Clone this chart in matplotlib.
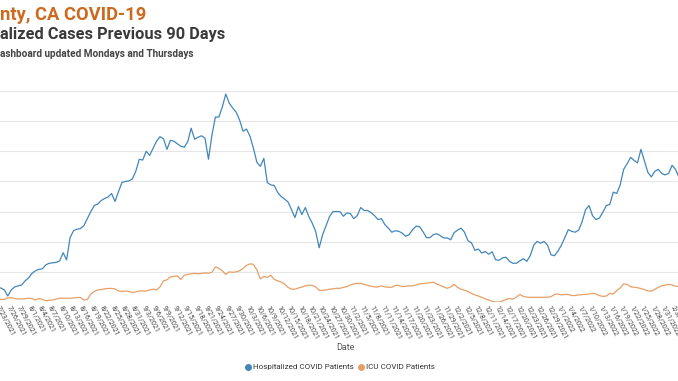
import datetime as dt
import matplotlib
matplotlib.use("Agg")
import matplotlib.pyplot as plt
from matplotlib.lines import Line2D

# daily data, 7/22/2021 .. 2/4/2022
start_date = dt.date(2021, 7, 22)

hospitalized = [
    9.3, 9.3, 8, 4, 8, 10, 10.7, 11.3, 14, 16,
    19, 20.7, 21.7, 22, 24.7, 25.7, 26, 26.3, 27.3, 32.7,
    28, 42.7, 47.3, 48.3, 48.7, 50.7, 55.3, 60, 64, 65,
    67.3, 68.7, 69.7, 72, 66.7, 73.3, 79.3, 80, 80.3, 81.7,
    86.7, 94.7, 94.2, 100, 97.3, 102, 106.7, 109.7, 108.3, 101.3,
    107.3, 106.7, 105, 103.3, 102.7, 106.3, 115.3, 108, 109.3, 110.3,
    108.7, 94.7, 110.7, 122.7, 122.7, 129.3, 138, 132, 128.7, 126,
    120.7, 113.3, 114.7, 110, 102, 92.7, 90, 95.3, 79.3, 77.7,
    77.3, 72.7, 70, 68.3, 66.3, 61.3, 56, 63.3, 58, 62.7,
    56.7, 52.3, 46.7, 36, 44.7, 50.7, 56.7, 60, 60, 60,
    56.9, 59.1, 58.7, 55.3, 57.3, 62.7, 60.7, 60.7, 59.3, 57.3,
    54.7, 55.3, 51.3, 49, 46.3, 47.3, 46.9, 45.7, 43.6, 44.7,
    48, 50.3, 50, 46.7, 42.7, 42.7, 44.7, 45.3, 44, 42.5,
    42.5, 41.3, 46, 47.7, 49, 46.3, 40.7, 39.3, 34.3, 35.1,
    32.5, 33.5, 31.7, 33.3, 28, 27.7, 29.3, 29.7, 27, 25.7,
    25.7, 27.3, 28.7, 27, 30.7, 37.7, 40.2, 39, 40.2, 37.7,
    31.3, 30.7, 33.7, 37.7, 42.7, 48, 46.9, 46.3, 47.7, 53.3,
    61.3, 64, 57.3, 54.7, 55.7, 59.7, 64, 64.7, 72.9, 72,
    77.7, 88, 91.7, 96, 94, 92.3, 101.3, 93.7, 86, 83,
    86.7, 88, 85.3, 84.3, 85.3, 90.7, 88, 82.7,
]

icu = [
    2.5, 1.7, 1.7, 2.7, 2.9, 2.3, 2, 2, 2.2, 2.5,
    2.3, 1.3, 2.3, 1.7, 0.9, 1.1, 1.3, 2, 2.5, 2.5,
    2.5, 2.5, 2.7, 3, 3, 1.3, 1.7, 5.3, 7, 8,
    8.3, 8.7, 9, 9, 8.7, 7.3, 7, 7.3, 7, 6.3,
    6.7, 7.3, 7.3, 7.3, 8, 8.5, 8, 10, 14, 14.7,
    16.7, 17, 17.3, 15, 17.7, 18.3, 18.7, 19, 18.7, 19,
    19.3, 19.1, 19.7, 23.3, 22.3, 20.7, 18.3, 20, 19.7, 20,
    20.7, 22.3, 24.3, 25.3, 25, 21.3, 15.3, 17, 16.3, 17.7,
    15, 14, 13.3, 12, 9.7, 8.5, 8.5, 9.3, 9.9, 10.7,
    11.1, 11, 10, 7.7, 7.7, 8, 8.5, 8.7, 9.1, 9.1,
    9.7, 10.2, 11.3, 12, 12.3, 12.3, 11.7, 11, 10.5, 10,
    10, 10.7, 10, 9.8, 9.8, 11, 11, 10.2, 10.5, 10.7,
    10.7, 11.3, 12, 12.2, 12.5, 12.8, 13.1, 12, 11, 10,
    9.1, 10, 11.7, 9.7, 8.5, 7.8, 7, 5.7, 4.7, 4,
    3.1, 2.1, 1.3, 0.5, 0, 0, 0.7, 1.7, 2.3, 1.9,
    3.3, 5, 3.7, 3.2, 3.1, 3.1, 3.1, 3.1, 3.1, 3.2,
    3.5, 5, 5.3, 4.7, 5, 5, 4.3, 4.3, 4.7, 4.9,
    5.1, 5.3, 5.8, 5.3, 4.3, 3.7, 4, 5.7, 5.3, 7.7,
    9.3, 12, 11.7, 10.1, 9.8, 9.5, 8.9, 8.3, 7.3, 7.2,
    8.4, 9.7, 10.7, 11.3, 11.7, 11.3, 10.5, 10.2,
]

dates = [start_date + dt.timedelta(days=i) for i in range(len(hospitalized))]
series_names = ["Hospitalized COVID Patients", "ICU COVID Patients"]
series_colors = ["#4287ba", "#e6a067"]

W, H = 678, 381
fig = plt.figure(figsize=(W / 100, H / 100), dpi=100)
fig.patch.set_facecolor("white")

top_px, bottom_px = 91, 302
ax = fig.add_axes([0, 1 - bottom_px / H, 1, (bottom_px - top_px) / H])

ax.plot(dates, hospitalized, color=series_colors[0], lw=0.9)
ax.plot(dates, icu, color=series_colors[1], lw=0.9)

ax.set_ylim(0, 140)
ax.set_yticks(range(0, 141, 20))
ax.set_xlim(dt.datetime(2021, 7, 22, 18), dt.datetime(2022, 2, 3, 17))
ax.grid(axis="y", color="#e6e6e6", lw=0.8)
ax.set_axisbelow(True)
for s in ax.spines.values():
    s.set_visible(False)
ax.tick_params(axis="y", length=0, labelleft=False)

tick_dates = [start_date + dt.timedelta(days=1 + 3 * k) for k in range(66)]
ax.set_xticks(tick_dates)
ax.set_xticklabels([f"{d.month}/{d.day}/{d.year}" for d in tick_dates],
                   rotation=-62, ha="left", va="top", rotation_mode="anchor",
                   fontsize=5.1, color="#444444", family="Roboto")
ax.tick_params(axis="x", length=0, pad=1.5)

# titles (left part cropped in the reference)
fig.text(0, 1 - 20 / H, "nty, CA COVID-19", color="#cc6a1f", fontsize=13.2,
         fontweight="bold", family="Roboto", va="baseline")
fig.text(0, 1 - 39 / H, "alized Cases Previous 90 Days", color="#3a3a3a", fontsize=11.8,
         fontweight="bold", family="Roboto", va="baseline")
fig.text(0, 1 - 57 / H, "ashboard updated Mondays and Thursdays", color="#444444", fontsize=7.2,
         fontweight="bold", family="Roboto", va="baseline")

fig.text(345 / W, 1 - 348 / H, "Date", ha="center", va="center", fontsize=6.5,
         color="#555555", family="Roboto")

handles = [Line2D([], [], ls="none", marker="o", markersize=4, color=c) for c in series_colors]
fig.legend(handles, series_names, loc="center", bbox_to_anchor=(340 / W, 1 - 367 / H),
           ncol=2, frameon=False, prop={"family": "Roboto", "size": 5.8},
           handletextpad=0.2, columnspacing=0.5, handlelength=0.8, labelcolor="#333333")

fig.savefig("out.png", dpi=100)
